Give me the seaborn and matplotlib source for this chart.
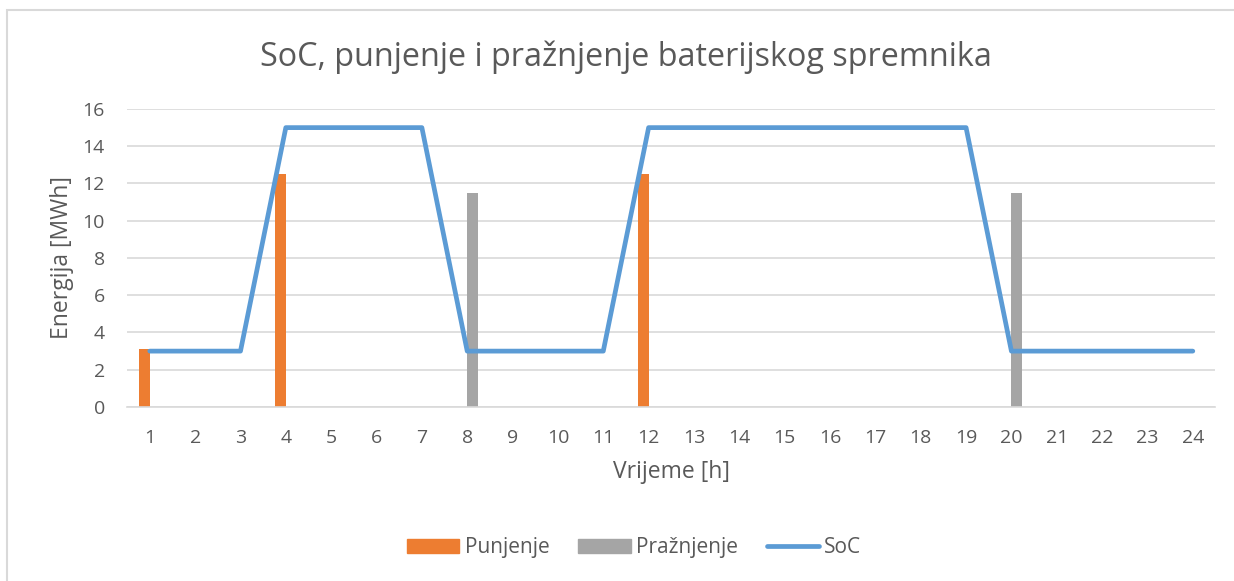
import numpy as np
import pandas as pd
import matplotlib
matplotlib.use('Agg')
import matplotlib.pyplot as plt
from matplotlib.patches import Patch, Rectangle
from matplotlib.lines import Line2D
import seaborn as sns

hours = [str(h) for h in range(1, 25)]
punjenje = [3.1, 0, 0, 12.5, 0, 0, 0, 0, 0, 0, 0, 12.5,
            0, 0, 0, 0, 0, 0, 0, 0, 0, 0, 0, 0]
praznjenje = [0, 0, 0, 0, 0, 0, 0, 11.5, 0, 0, 0, 0,
              0, 0, 0, 0, 0, 0, 0, 11.5, 0, 0, 0, 0]
soc = [3, 3, 3, 15, 15, 15, 15, 3, 3, 3, 3, 15,
       15, 15, 15, 15, 15, 15, 15, 3, 3, 3, 3, 3]

c_orange = '#ED7D31'
c_gray = '#A5A5A5'
c_blue = '#5B9BD5'
txt = '#595959'

sns.set_style('white')
plt.rcParams['font.family'] = ['Open Sans', 'DejaVu Sans']

bars = pd.DataFrame({
    'sat': hours * 2,
    'vrijednost': punjenje + praznjenje,
    'serija': ['Punjenje'] * 24 + ['Pražnjenje'] * 24,
})

fig = plt.figure(figsize=(12.34, 5.81), dpi=100)
ax = fig.add_axes([0.103, 0.2995, 0.882, 0.5129])

sns.barplot(data=bars, x='sat', y='vrijednost', hue='serija',
            hue_order=['Punjenje', 'Pražnjenje'],
            palette=[c_orange, c_gray], width=0.48, linewidth=0,
            saturation=1, ax=ax, legend=False)
sns.lineplot(x=np.arange(24), y=soc, color=c_blue, linewidth=3.4,
             ax=ax, solid_capstyle='round', solid_joinstyle='round')

ax.set_xlim(-0.5, 23.5)
ax.set_ylim(0, 16)
ax.set_yticks(range(0, 17, 2))
ax.yaxis.grid(True, color='#D9D9D9', linewidth=1.2)
ax.set_axisbelow(True)
for s in ['top', 'right', 'left']:
    ax.spines[s].set_visible(False)
ax.spines['bottom'].set_color('#D9D9D9')
ax.spines['bottom'].set_linewidth(1.2)
ax.tick_params(axis='both', length=0, labelsize=14, colors=txt)
ax.tick_params(axis='x', pad=16)
ax.tick_params(axis='y', pad=16)

ax.set_xlabel('Vrijeme [h]', fontsize=16.5, color=txt, labelpad=9)
ax.set_ylabel('Energija [MWh]', fontsize=16.5, color=txt, labelpad=6)
fig.text(0.507, 1 - 57 / 581, 'SoC, punjenje i pražnjenje baterijskog spremnika',
         fontsize=23.3, color=txt, ha='center', va='center')

handles = [Patch(color=c_orange, label='Punjenje'),
           Patch(color=c_gray, label='Pražnjenje'),
           Line2D([0], [0], color=c_blue, linewidth=3.4,
                  solid_capstyle='round', label='SoC')]
fig.legend(handles=handles, loc='center', bbox_to_anchor=(0.514, 0.057),
           ncol=3, frameon=False, fontsize=15, labelcolor=txt,
           handlelength=2.5, handleheight=0.65, handletextpad=0.25,
           columnspacing=1.4)

fig.patches.append(Rectangle((7 / 1234, -0.05), 1.2, 1 - 10 / 581 + 0.05,
                             transform=fig.transFigure, fill=False,
                             edgecolor='#D9D9D9', linewidth=1.5))

fig.savefig('out.png', dpi=100)
